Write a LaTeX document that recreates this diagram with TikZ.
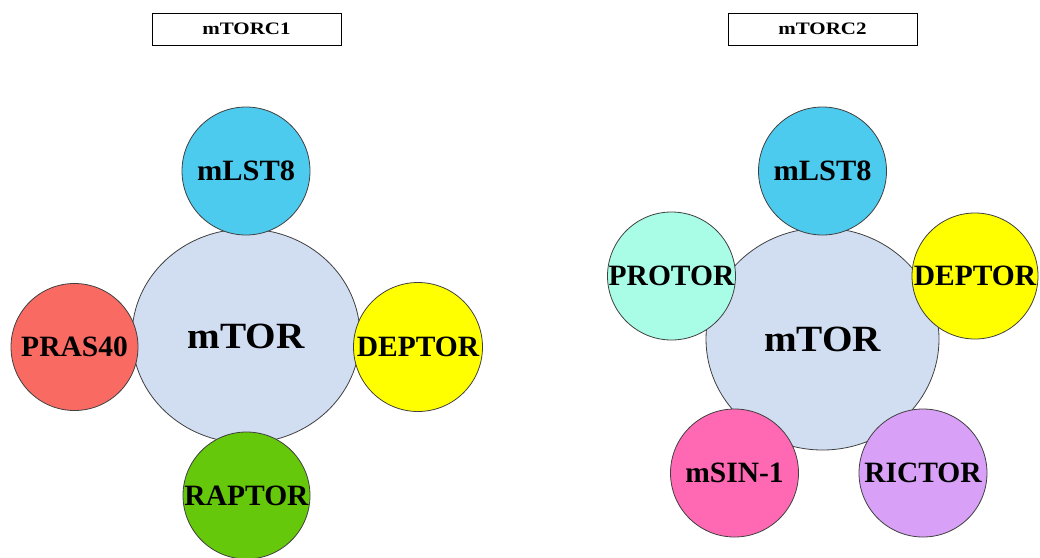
\documentclass[tikz,border=0pt]{standalone}
\usepackage{fontspec}
\setmainfont{Liberation Serif}
\usetikzlibrary{shapes.geometric}
\definecolor{coreblue}{HTML}{D1DEF1}
\definecolor{lstblue}{HTML}{4DCBEF}
\definecolor{prasred}{HTML}{F96A63}
\definecolor{deptyellow}{HTML}{FFFF00}
\definecolor{raptgreen}{HTML}{66C80A}
\definecolor{protmint}{HTML}{A9FCE6}
\definecolor{msinpink}{HTML}{FF69B4}
\definecolor{rictlilac}{HTML}{D8A0F6}
\newcommand{\widetext}[2]{\scalebox{#1}[1]{#2}}
\tikzset{
  x=1pt, y=-1pt,
  core/.style={ellipse, draw=black!75, line width=0.8pt, fill=coreblue, inner sep=0pt,
    font=\fontsize{37}{40}\selectfont\bfseries},
  sub/.style={circle, draw=black!75, line width=0.8pt, inner sep=0pt,
    minimum size=128pt, font=\fontsize{29.5}{32}\selectfont\bfseries},
  titlebox/.style={draw=black, line width=0.8pt, minimum width=189pt, minimum height=32pt,
    inner sep=0pt, font=\fontsize{17.5}{20}\selectfont\bfseries}
}
\begin{document}
\begin{tikzpicture}
\useasboundingbox (0,0) rectangle (1040,557);

% mTORC1 complex
\node[titlebox] (t1) at (246.5,29) {\widetext{1.2}{mTORC1}};
\node[core, minimum width=228pt, minimum height=214pt] (core1) at (246,336) {\widetext{1.06}{mTOR}};
\node[sub, fill=lstblue] (lst1) at (246,171) {\widetext{1.03}{mLST8}};
\node[sub, fill=prasred, minimum size=127pt] (pras) at (74.5,347) {PRAS40};
\node[sub, fill=deptyellow, minimum size=129pt] (dep1) at (418,347) {DEPTOR};
\node[sub, fill=raptgreen, minimum size=127pt] (rapt) at (246.5,495.5) {RAPTOR};

% mTORC2 complex
\node[titlebox] (t2) at (822.5,29) {\widetext{1.2}{mTORC2}};
\node[core, minimum width=233pt, minimum height=222pt] (core2) at (822.5,339) {\widetext{1.06}{mTOR}};
\node[sub, fill=lstblue] (lst2) at (822.5,171) {\widetext{1.03}{mLST8}};
\node[sub, fill=protmint] (prot) at (671.5,276) {PROTOR};
\node[sub, fill=deptyellow, minimum size=126pt] (dep2) at (975,276) {DEPTOR};
\node[sub, fill=msinpink] (msin) at (734.5,473) {mSIN-1};
\node[sub, fill=rictlilac] (rict) at (923,473) {RICTOR};
\end{tikzpicture}
\end{document}
